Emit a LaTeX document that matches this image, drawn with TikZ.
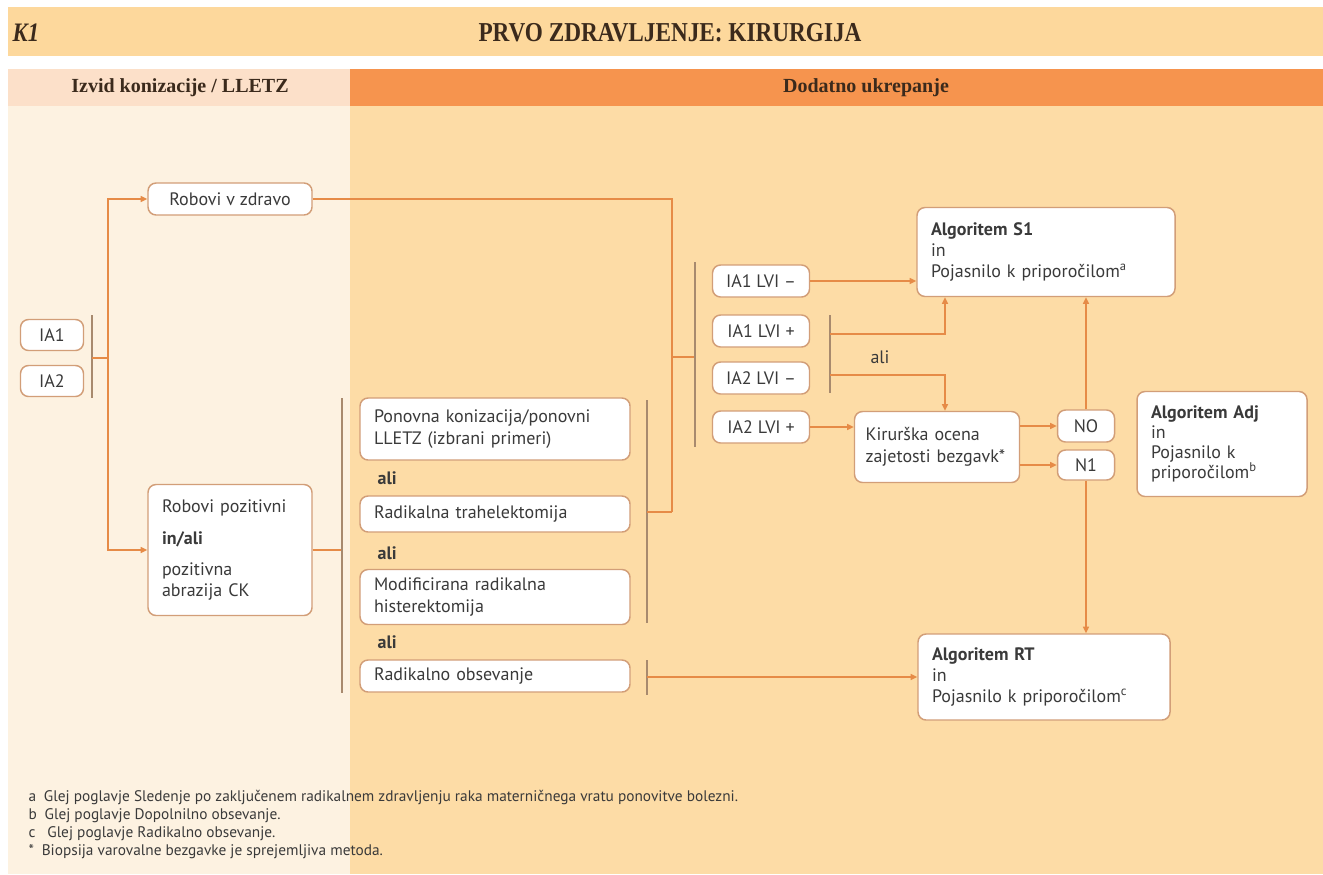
\documentclass[tikz,border=0pt]{standalone}
\usepackage{fontspec}
\setmainfont{PT Sans}
\newfontfamily\hdfont[FakeStretch=0.85]{Liberation Serif}
\newfontfamily\bandfont{Liberation Serif}
\usetikzlibrary{arrows.meta,calc}
\definecolor{hdr}{HTML}{FDD89C}
\definecolor{bandL}{HTML}{FCE0C9}
\definecolor{bandR}{HTML}{F6944E}
\definecolor{bodyL}{HTML}{FDF2E1}
\definecolor{bodyR}{HTML}{FDDCA6}
\definecolor{boxline}{HTML}{D29E78}
\definecolor{conn}{HTML}{E68B47}
\definecolor{brk}{HTML}{A88A6E}
\definecolor{txt}{HTML}{3A3A3A}
\definecolor{hdtxt}{HTML}{3B2A1C}
\tikzset{
  box/.style={draw=boxline, fill=white, line width=1.1pt, rounded corners=6pt, text=txt,
    inner xsep=10.5pt, inner ysep=2pt, font=\fontsize{13.5}{15.5}\selectfont},
  cbox/.style={box, align=center},
  lbox/.style={box, align=left},
  conn/.style={draw=conn, line width=1.1pt},
  arr/.style={conn, -{Triangle[length=5pt,width=4.5pt]}},
  brk/.style={draw=brk, line width=1pt},
  hd/.style={text=hdtxt, font=\bandfont\bfseries\fontsize{15}{15}\selectfont},
  foot/.style={anchor=west, text=txt, font=\fontsize{11.5}{13}\selectfont},
  alilab/.style={text=txt, font=\fontsize{13.5}{15}\selectfont},
}
\begin{document}
\begin{tikzpicture}[x=0.75pt,y=-0.75pt]
\useasboundingbox (0,0) rectangle (1323,874);
% backgrounds
\fill[white] (0,0) rectangle (1323,874);
\fill[hdr] (8,7) rectangle (1323,56);
\fill[bandL] (8,69) rectangle (350,106);
\fill[bandR] (350,69) rectangle (1323,106);
\fill[bodyL] (8,106) rectangle (350,874);
\fill[bodyR] (350,106) rectangle (1323,874);
% header texts
\node[anchor=west, text=hdtxt, font=\hdfont\bfseries\itshape\fontsize{20}{20}\selectfont] (k1) at (8,33) {K1};
\node[text=hdtxt, font=\hdfont\bfseries\fontsize{20.5}{20.5}\selectfont] (title) at (670,33) {PRVO ZDRAVLJENJE: KIRURGIJA};
\node[hd] (hl) at (180,88) {Izvid konizacije / LLETZ};
\node[hd] (hr) at (866,88) {Dodatno ukrepanje};

% nodes
\node[cbox, minimum width=47.25pt, minimum height=23.25pt, inner xsep=2pt] (ia1) at (52,335) {IA1};
\node[cbox, minimum width=47.25pt, minimum height=23.25pt, inner xsep=2pt] (ia2) at (52,381) {IA2};
\node[cbox, minimum width=123pt, minimum height=24pt] (rz) at (230,199) {Robovi v zdravo};
\node[lbox, text width=102pt, minimum height=98.25pt] (rp) at (230,550)
  {Robovi pozitivni\\[8pt]\textbf{in/ali}\\[8pt]pozitivna\\abrazija CK};
\node[lbox, text width=181.5pt, minimum height=46.5pt, font=\fontsize{13.5}{16.5}\selectfont] (t1) at (495,429)
  {Ponovna konizacija/ponovni\\LLETZ (izbrani primeri)};
\node[lbox, text width=181.5pt, minimum height=27pt] (t2) at (495,514) {Radikalna trahelektomija};
\node[lbox, text width=181.5pt, minimum height=41.25pt, font=\fontsize{13.5}{16.5}\selectfont] (t3) at (495,597)
  {Modificirana radikalna\\histerektomija};
\node[lbox, text width=181.5pt, minimum height=24pt] (t4) at (495,676) {Radikalno obsevanje};
\node[alilab, anchor=west, font=\bfseries\fontsize{13.5}{15}\selectfont] (ali1) at (373,478) {ali};
\node[alilab, anchor=west, font=\bfseries\fontsize{13.5}{15}\selectfont] (ali2) at (373,553) {ali};
\node[alilab, anchor=west, font=\bfseries\fontsize{13.5}{15}\selectfont] (ali3) at (373,642) {ali};

\node[cbox, minimum width=72.75pt, minimum height=24pt, inner xsep=2pt] (l1) at (761,281) {IA1 LVI –};
\node[cbox, minimum width=72.75pt, minimum height=24pt, inner xsep=2pt] (l2) at (761,331) {IA1 LVI +};
\node[cbox, minimum width=72.75pt, minimum height=24pt, inner xsep=2pt] (l3) at (761,378) {IA2 LVI –};
\node[cbox, minimum width=72.75pt, minimum height=24pt, inner xsep=2pt] (l4) at (761,427) {IA2 LVI +};

\node[lbox, text width=172.5pt, minimum height=66.75pt] (s1) at (1046,252)
  {\textbf{Algoritem S1}\\in\\Pojasnilo k priporočilom\textsuperscript{a}};
\node[lbox, text width=113pt, inner xsep=5.375pt, minimum height=53.25pt, font=\fontsize{13.5}{16.5}\selectfont] (kir) at (937,447)
  {\hspace*{3pt}Kirurška ocena\\\hspace*{3pt}zajetosti bezgavk*};
\node[cbox, minimum width=42.75pt, minimum height=24pt, inner xsep=2pt] (no) at (1086,426) {NO};
\node[cbox, minimum width=42.75pt, minimum height=22.5pt, inner xsep=2pt] (n1) at (1086,465) {N1};
\node[lbox, text width=106.5pt, minimum height=78.75pt, font=\fontsize{13.5}{15}\selectfont] (adj) at (1222,444)
  {\textbf{Algoritem Adj}\\in\\Pojasnilo k\\priporočilom\textsuperscript{b}};
\node[lbox, text width=168pt, minimum height=64.5pt] (rt) at (1044,677)
  {\textbf{Algoritem RT}\\in\\Pojasnilo k priporočilom\textsuperscript{c}};

% left bracket and branches
\coordinate (b1) at (92,358);
\coordinate (j1) at (108,358);
\draw[brk] (92,315) -- (92,398);
\draw[conn] (b1) -- (j1);
\draw[arr] (j1) |- (rz.west);
\draw[arr] (j1) |- (rp.west);

% Robovi v zdravo -> junction
\coordinate (j2) at (672,512);
\coordinate (b3) at (695,357);
\draw[conn] (rz.east) -| (j2);
\draw[conn] (j2 |- b3) -- (b3);
\draw[brk] (695,262) -- (695,447);

% Robovi pozitivni -> treatments bracket
\coordinate (b2) at (342,550);
\draw[conn] (rp.east) -- (b2);
\draw[brk] (342,398) -- (342,693);

% treatments bracket
\coordinate (b4) at (647,512);
\draw[brk] (647,400) -- (647,623);
\draw[conn] (b4) -- (j2);
\coordinate (b5) at (647,677);
\draw[brk] (647,660) -- (647,695);
\draw[arr] (b5) -- (rt.west |- b5);

% LVI branches
\draw[arr] (l1.east) -- (s1.west |- l1.east);
\coordinate (b6) at (830,334);
\coordinate (b7) at (830,375);
\coordinate (x945) at (945,0);
\draw[brk] (830,315) -- (830,393);
\draw[arr] (b6) -| (x945 |- s1.south);
\draw[arr] (b7) -| (x945 |- kir.north);
\node[alilab] (ali4) at (880,357) {ali};
\draw[arr] (l4.east) -- (kir.west |- l4.east);
\draw[arr] (kir.east |- no.west) -- (no.west);
\draw[arr] (kir.east |- n1.west) -- (n1.west);
\draw[arr] (no.north) -- (no.north |- s1.south);
\draw[arr] (n1.south) -- (n1.south |- rt.north);

% footnotes
\node[foot] (fa) at (24,798) {a\enspace Glej poglavje Sledenje po zaključenem radikalnem zdravljenju raka materničnega vratu ponovitve bolezni.};
\node[foot] (fb) at (24,816) {b\enspace Glej poglavje Dopolnilno obsevanje.};
\node[foot] (fc) at (24,834) {c\enspace\ Glej poglavje Radikalno obsevanje.};
\node[foot] (fs) at (24,852) {*\enspace Biopsija varovalne bezgavke je sprejemljiva metoda.};
\end{tikzpicture}
\end{document}
